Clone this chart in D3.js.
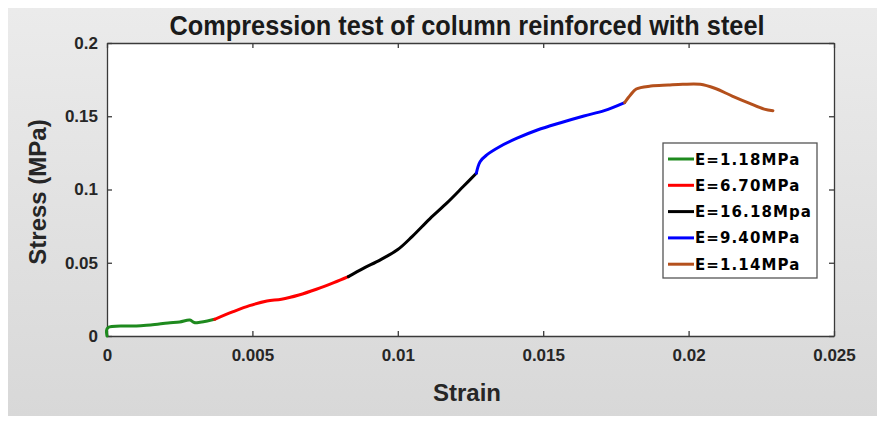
<!DOCTYPE html>
<html>
<head>
<meta charset="utf-8">
<script src="https://cdn.jsdelivr.net/npm/d3@7"></script>
<style>
  body { margin: 0; background: #fff; }
  svg { display: block; }
</style>
</head>
<body>
<svg id="chart" width="885" height="421"></svg>
<script>
// data (strain, stress in MPa)
const greenStrain = [0, 0.00002, 0.0009, 0.0015, 0.0021, 0.0025, 0.00285, 0.003, 0.0032, 0.00345, 0.0037];
const greenStress = [0, 0.0055, 0.0068, 0.0075, 0.0089, 0.0096, 0.0109, 0.0092, 0.0094, 0.0102, 0.0114];

const redStrain = [0.0037, 0.00434, 0.0049, 0.0055, 0.006, 0.0066, 0.0072, 0.0078, 0.0083];
const redStress = [0.0114, 0.0166, 0.0207, 0.0239, 0.0251, 0.028, 0.0319, 0.0364, 0.0405];

const blackStrain = [0.0083, 0.0088, 0.0094, 0.01, 0.0105, 0.0111, 0.0117, 0.01225, 0.0127];
const blackStress = [0.0405, 0.046, 0.052, 0.059, 0.068, 0.08, 0.091, 0.102, 0.1111];

const blueStrain = [0.0127, 0.01283, 0.01306, 0.0135, 0.0141, 0.0148, 0.0156, 0.0164, 0.0171, 0.0178];
const blueStress = [0.1111, 0.119, 0.1236, 0.1292, 0.135, 0.1406, 0.1456, 0.1502, 0.1538, 0.1593];

const brownStrain = [0.0178, 0.018, 0.0182, 0.0187, 0.0193, 0.0198, 0.0204, 0.0209, 0.0215, 0.0221, 0.0226, 0.0229];
const brownStress = [0.1593, 0.1645, 0.1686, 0.1706, 0.1713, 0.1718, 0.1718, 0.1691, 0.1638, 0.1588, 0.1549, 0.1538];

const seriesNames = ["E=1.18MPa", "E=6.70MPa", "E=16.18Mpa", "E=9.40MPa", "E=1.14MPa"];
const seriesColors = ["#1e8a1e", "#ff0000", "#000000", "#0000ff", "#b4501c"];

const xTicks = [0, 0.005, 0.01, 0.015, 0.02, 0.025];
const yTicks = [0, 0.05, 0.1, 0.15, 0.2];

const series = [
  [greenStrain, greenStress],
  [redStrain, redStress],
  [blackStrain, blackStress],
  [blueStrain, blueStress],
  [brownStrain, brownStress]
].map(([xs, ys], i) => ({
  name: seriesNames[i],
  color: seriesColors[i],
  values: xs.map((x, j) => ({ x, y: ys[j] }))
}));

const svg = d3.select("#chart");
const plotL = 107, plotR = 834, plotT = 43, plotB = 336;

// grey figure background
const grad = svg.append("defs").append("linearGradient")
  .attr("id", "bg").attr("x1", 0).attr("y1", 0).attr("x2", 0).attr("y2", 1);
grad.append("stop").attr("offset", "0%").attr("stop-color", "#ebebeb");
grad.append("stop").attr("offset", "100%").attr("stop-color", "#d8d8d8");
svg.append("rect")
  .attr("x", 8).attr("y", 8).attr("width", 869).attr("height", 408)
  .attr("fill", "url(#bg)");

const x = d3.scaleLinear().domain([0, 0.025]).range([plotL, plotR]);
const y = d3.scaleLinear().domain([0, 0.2]).range([plotB, plotT]);

svg.append("rect")
  .attr("x", plotL).attr("y", plotT)
  .attr("width", plotR - plotL).attr("height", plotB - plotT)
  .attr("fill", "#fff");

const fmt = d => d === 0 ? "0" : String(+d.toFixed(3));

const xAxis = svg.append("g")
  .attr("transform", `translate(0,${plotB})`)
  .call(d3.axisBottom(x).tickValues(xTicks).tickFormat(fmt).tickSizeInner(-5).tickSizeOuter(0).tickPadding(13));
const xTop = svg.append("g")
  .attr("transform", `translate(0,${plotT})`)
  .call(d3.axisTop(x).tickValues(xTicks).tickFormat("").tickSizeInner(-5).tickSizeOuter(0));
const yAxis = svg.append("g")
  .attr("transform", `translate(${plotL},0)`)
  .call(d3.axisLeft(y).tickValues(yTicks).tickFormat(fmt).tickSizeInner(-5).tickSizeOuter(0).tickPadding(9));
const yRight = svg.append("g")
  .attr("transform", `translate(${plotR},0)`)
  .call(d3.axisRight(y).tickValues(yTicks).tickFormat("").tickSizeInner(-5).tickSizeOuter(0));

[xAxis, xTop, yAxis, yRight].forEach(g => {
  g.select(".domain").attr("stroke", "#3a3a3a").attr("stroke-width", 1.3);
  g.selectAll(".tick line").attr("stroke", "#3a3a3a").attr("stroke-width", 1.3);
  g.selectAll(".tick text")
    .attr("fill", "#262626")
    .style("font-family", "'Liberation Sans', Arial, sans-serif")
    .style("font-weight", "bold")
    .style("font-size", "17px");
});

const line = d3.line()
  .x(d => x(d.x))
  .y(d => y(d.y))
  .curve(d3.curveCatmullRom.alpha(0.5));

svg.append("g")
  .selectAll("path")
  .data(series)
  .join("path")
  .attr("d", d => line(d.values))
  .attr("fill", "none")
  .attr("stroke", d => d.color)
  .attr("stroke-width", 3)
  .attr("stroke-linejoin", "round")
  .attr("stroke-linecap", "round");

// title and axis labels
svg.append("text")
  .attr("x", 467).attr("y", 35)
  .attr("text-anchor", "middle")
  .attr("textLength", 595).attr("lengthAdjust", "spacingAndGlyphs")
  .attr("fill", "#1a1a1a")
  .style("font-family", "'Liberation Sans', Arial, sans-serif")
  .style("font-weight", "bold")
  .style("font-size", "27px")
  .text("Compression test of column reinforced with steel");

svg.append("text")
  .attr("x", 467).attr("y", 401)
  .attr("text-anchor", "middle")
  .attr("fill", "#262626")
  .style("font-family", "'Liberation Sans', Arial, sans-serif")
  .style("font-weight", "bold")
  .style("font-size", "24px")
  .text("Strain");

svg.append("text")
  .attr("transform", "translate(46,192) rotate(-90)")
  .attr("text-anchor", "middle")
  .attr("fill", "#262626")
  .style("font-family", "'Liberation Sans', Arial, sans-serif")
  .style("font-weight", "bold")
  .style("font-size", "24px")
  .text("Stress (MPa)");

// legend
const legend = svg.append("g").attr("transform", "translate(663,143)");
legend.append("rect")
  .attr("width", 154).attr("height", 135)
  .attr("fill", "#fff").attr("stroke", "#555").attr("stroke-width", 1.3);
const item = legend.selectAll("g.item")
  .data(series)
  .join("g")
  .attr("class", "item")
  .attr("transform", (d, i) => `translate(0,${16 + i * 26.3})`);
item.append("line")
  .attr("x1", 5).attr("x2", 31)
  .attr("stroke", d => d.color).attr("stroke-width", 3);
item.append("text")
  .attr("x", 32).attr("y", 5.5)
  .attr("fill", "#000")
  .style("font-family", "'DejaVu Sans', Verdana, sans-serif")
  .style("font-weight", "bold")
  .style("font-size", "15px")
  .style("letter-spacing", "1.1px")
  .text(d => d.name);
</script>
</body>
</html>
